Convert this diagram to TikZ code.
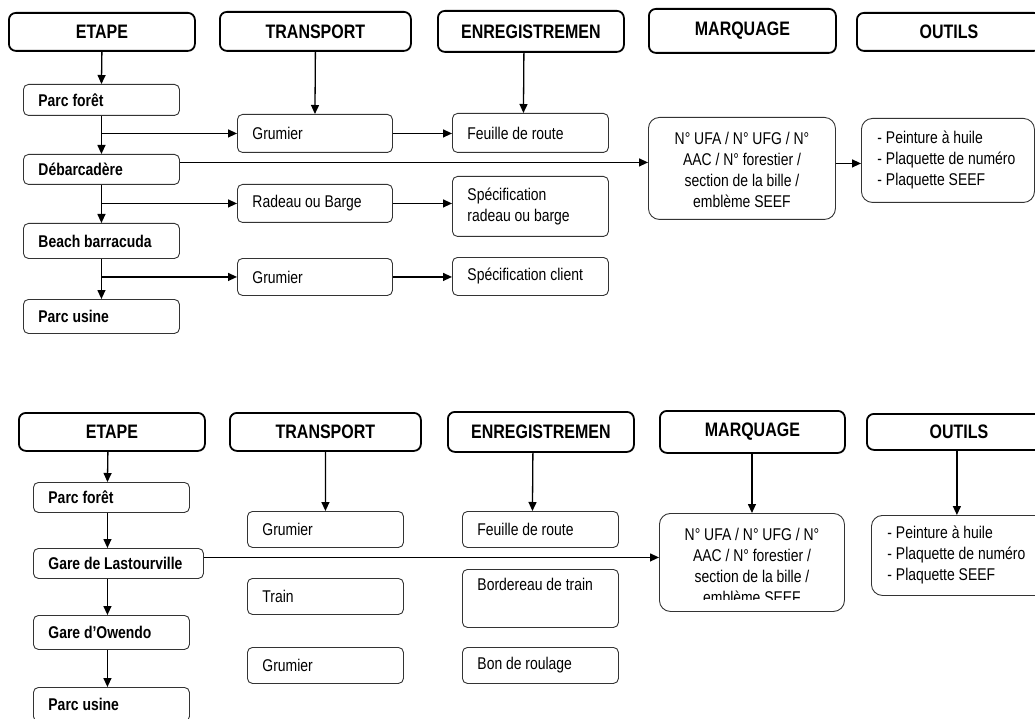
\documentclass[tikz,border=0pt]{standalone}
\usepackage{fontspec}
\setmainfont{Liberation Sans}[FakeStretch=0.82]
\usetikzlibrary{arrows.meta}
\newcommand{\headfont}{\fontsize{19.5}{22}\selectfont\bfseries}
\newcommand{\bodyfont}{\fontsize{17}{21}\selectfont}
\begin{document}
\begin{tikzpicture}[x=1pt,y=-1pt,
  head/.style={draw, line width=1.8pt, rounded corners=7pt, anchor=north west,
    inner sep=0pt, font=\headfont, align=center},
  cell/.style={draw=black!80, line width=0.9pt, rounded corners=5pt, anchor=north west,
    inner xsep=15pt, inner ysep=0pt, align=flush left, font=\bodyfont},
  stage/.style={cell, font=\bodyfont\bfseries},
  info/.style={draw=black!80, line width=0.9pt, rounded corners=11pt, anchor=north west,
    inner sep=0pt, align=center, font=\bodyfont},
  tools/.style={info, align=flush left, inner xsep=16pt},
  arr/.style={-{Triangle[length=9pt,width=8pt]}, line width=1.3pt}]
\useasboundingbox (0,0) rectangle (1035,719);

% ---------- first chain: river route ----------
\node[head, minimum width=186, minimum height=38] (e1) at (8,12) {ETAPE};
\node[head, minimum width=191, minimum height=39] (t1) at (219,11) {TRANSPORT};
\node[head, minimum width=186, minimum height=41] (r1) at (437,10) {ENREGISTREMEN};
\node[head, minimum width=187, minimum height=44] (m1) at (648,8) {MARQUAGE};
\node[head, minimum width=184, minimum height=38] (o1) at (856,12) {OUTILS};

\node[stage, text width=126, minimum height=31] (s11) at (23,84) {Parc forêt};
\node[stage, text width=126, minimum height=30] (s12) at (23,154) {Débarcadère};
\node[stage, text width=126, minimum height=35] (s13) at (23,223) {Beach barracuda};
\node[stage, text width=126, minimum height=34] (s14) at (23,299) {Parc usine};

\node[cell, text width=125, minimum height=38] (g11) at (237,114) {Grumier};
\node[cell, text width=125, minimum height=38] (g12) at (237,184) {Radeau ou Barge};
\node[cell, text width=125, minimum height=37] (g13) at (237,258) {Grumier};

\node[cell, text width=126, minimum height=39] (f11) at (452,113) {Feuille de route};
\node[cell, text width=126, minimum height=60] (f12) at (452,176) {Spécification\\radeau ou barge};
\node[cell, text width=126, minimum height=38] (f13) at (452,257) {Spécification client};

\node[info, minimum width=187, minimum height=102] (mk1) at (648,117) {};
\node[font=\bodyfont, align=center, inner sep=0pt] (mk1t) at ([yshift=-1.5pt]mk1.center)
  {N° UFA / N° UFG / N°\\AAC / N° forestier /\\section de la bille /\\emblème SEEF};
\node[tools, text width=141, minimum height=84] (ou1) at (861,118)
  {\mbox{- Peinture à huile}\\\mbox{- Plaquette de numéro}\\\mbox{- Plaquette SEEF}};

\draw[arr] (e1.south) -- (s11.north);
\draw[arr] (s11.south) -- (s12.north);
\draw[arr] (s12.south) -- (s13.north);
\draw[arr] (s13.south) -- (s14.north);
\draw[arr] (g11.west -| s11.south) -- (g11.west);
\draw[arr] (g12.west -| s12.south) -- (g12.west);
\draw[arr] (g13.west -| s13.south) -- (g13.west);
\draw[arr] (t1.south) -- (g11.north);
\draw[arr] ([xshift=-7pt]r1.south) -- ([xshift=-7pt]f11.north);
\draw[arr] (g11.east) -- (g11.east -| f11.west);
\draw[arr] (g12.east) -- (g12.east -| f12.west);
\draw[arr] (g13.east) -- (g13.east -| f13.west);
\draw[arr] ([yshift=7pt]s12.east) -- ([yshift=7pt]s12.east -| mk1.west);
\draw[arr] ([yshift=5pt]mk1.east) -- ([yshift=5pt]mk1.east -| ou1.west);

% ---------- second chain: rail route ----------
\node[head, minimum width=186, minimum height=38] (e2) at (18,412) {ETAPE};
\node[head, minimum width=191, minimum height=38] (t2) at (229,412) {TRANSPORT};
\node[head, minimum width=186, minimum height=40] (r2) at (447,411) {ENREGISTREMEN};
\node[head, minimum width=185, minimum height=42] (m2) at (659,410) {MARQUAGE};
\node[head, minimum width=184, minimum height=36] (o2) at (866,413) {OUTILS};

\node[stage, text width=126, minimum height=30] (s21) at (33,482) {Parc forêt};
\node[stage, text width=140, minimum height=30] (s22) at (33,548) {Gare de Lastourville};
\node[stage, text width=126, minimum height=34] (s23) at (33,615) {Gare d’Owendo};
\node[stage, text width=126, minimum height=34] (s24) at (33,687) {Parc usine};

\node[cell, text width=126, minimum height=36] (g21) at (247,511) {Grumier};
\node[cell, text width=126, minimum height=36] (g22) at (247,578) {Train};
\node[cell, text width=126, minimum height=36] (g23) at (247,647) {Grumier};

\node[cell, text width=126, minimum height=36] (f21) at (462,511) {Feuille de route};
\node[cell, text width=126, minimum height=58] (f22) at (462,569) {Bordereau de train\\\strut};
\node[cell, text width=126, minimum height=36] (f23) at (462,647) {Bon de roulage};

\node[info, minimum width=185, minimum height=98] (mk2) at (659,513) {};
\begin{scope}
  \clip (659,513) rectangle (844,599);
  \node[font=\bodyfont, align=center, inner sep=0pt] (mk2t) at ([yshift=-3.5pt]mk2.center)
    {N° UFA / N° UFG / N°\\AAC / N° forestier /\\section de la bille /\\emblème SEEF};
\end{scope}
\node[tools, text width=143, minimum height=80] (ou2) at (871,515)
  {\mbox{- Peinture à huile}\\\mbox{- Plaquette de numéro}\\\mbox{- Plaquette SEEF}};

\draw[arr] ([xshift=-4pt]e2.south) -- ([xshift=-4pt]s21.north);
\draw[arr] ([xshift=-4pt]s21.south) -- ([xshift=-4pt]s21.south |- s22.north);
\draw[arr] ([xshift=-4pt]s21.south |- s22.south) -- ([xshift=-4pt]s23.north);
\draw[arr] ([xshift=-4pt]s23.south) -- ([xshift=-4pt]s24.north);
\draw[arr] (t2.south) -- (g21.north);
\draw[arr] ([xshift=-8pt]r2.south) -- ([xshift=-8pt]f21.north);
\draw[arr] (m2.south -| mk2.north) -- (mk2.north);
\draw[arr] ([xshift=-2pt]o2.south) -- ([xshift=-2pt]o2.south |- ou2.north);
\draw[arr] ([yshift=6pt]s22.east) -- ([yshift=6pt]s22.east -| mk2.west);
\end{tikzpicture}
\end{document}
